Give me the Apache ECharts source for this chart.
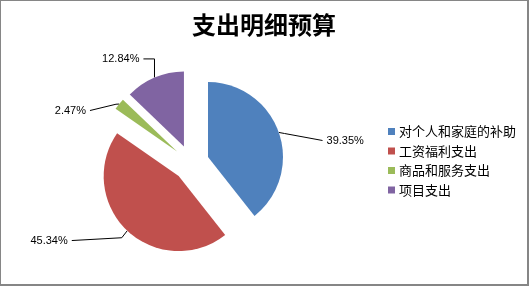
<!DOCTYPE html>
<html><head><meta charset="utf-8">
<script src="https://cdn.jsdelivr.net/npm/echarts@6/dist/echarts.min.js"></script>
<style>
html,body{margin:0;padding:0;background:#fff;}
#c{position:absolute;left:0;top:0;width:526px;height:283px;border:1px solid #868686;border-right-width:2px;border-bottom-width:2px;}
</style></head>
<body><div id="c"></div>
<script>
var titleText = '支出明细预算';
var categories = ['对个人和家庭的补助', '工资福利支出', '商品和服务支出', '项目支出'];
var values = [39.35, 45.34, 2.47, 12.84];
var labels = ['39.35%', '45.34%', '2.47%', '12.84%'];
var colors = ['#4F81BD', '#C0504D', '#9BBB59', '#8064A2'];
var lineLen = [[6, 38], [8, 50], [4, 24], [18, 8]];
var labelShiftX = [0, 0, -2, 4];
var labelShiftY = [10, 4, 9, -2];
var elbowVertical = [false, false, false, true];

var data = categories.map(function (c, i) {
  return {
    name: c, value: values[i], selected: true,
    itemStyle: { color: colors[i] },
    label: { formatter: labels[i] },
    labelLine: { length: lineLen[i][0], length2: lineLen[i][1] }
  };
});

var chart = echarts.init(document.getElementById('c'));
chart.setOption({
  animation: false,
  title: {
    text: titleText, left: 'center', top: 7,
    textStyle: { fontFamily: 'Noto Sans CJK SC', fontSize: 24, fontWeight: 'bold', color: '#000' }
  },
  legend: {
    orient: 'vertical', left: 382, top: 119,
    itemWidth: 7, itemHeight: 7, itemGap: 6.5, icon: 'rect',
    textStyle: { fontFamily: 'Noto Sans CJK SC', fontSize: 13, lineHeight: 13, color: '#000', padding: [0, 0, 0, -1] },
    data: categories
  },
  series: [{
    type: 'pie',
    center: [190, 162],
    radius: 75,
    startAngle: 90,
    clockwise: true,
    selectedMode: 'multiple',
    selectedOffset: 18,
    avoidLabelOverlap: false,
    label: { show: true, position: 'outside', fontFamily: 'Liberation Sans', fontSize: 11, color: '#000', distanceToLabelLine: 4 },
    labelLine: { show: true, lineStyle: { color: '#000', width: 1 } },
    labelLayout: function (p) {
      var i = p.dataIndex;
      var dx = labelShiftX[i], dy = labelShiftY[i];
      var pts = p.labelLinePoints;
      if (!pts) return { dx: dx, dy: dy };
      var p0 = pts[0], p1 = pts[1], p2 = pts[2];
      var np;
      if (elbowVertical[i]) {
        np = [[p0[0], p0[1]], [p0[0], p2[1] + dy], [p2[0] + dx, p2[1] + dy]];
      } else {
        np = [[p0[0], p0[1]], [p1[0], p1[1] + dy * 0.3], [p2[0] + dx, p2[1] + dy]];
      }
      return { dx: dx, dy: dy, labelLinePoints: np };
    },
    emphasis: { disabled: true },
    data: data
  }]
});
</script></body></html>
